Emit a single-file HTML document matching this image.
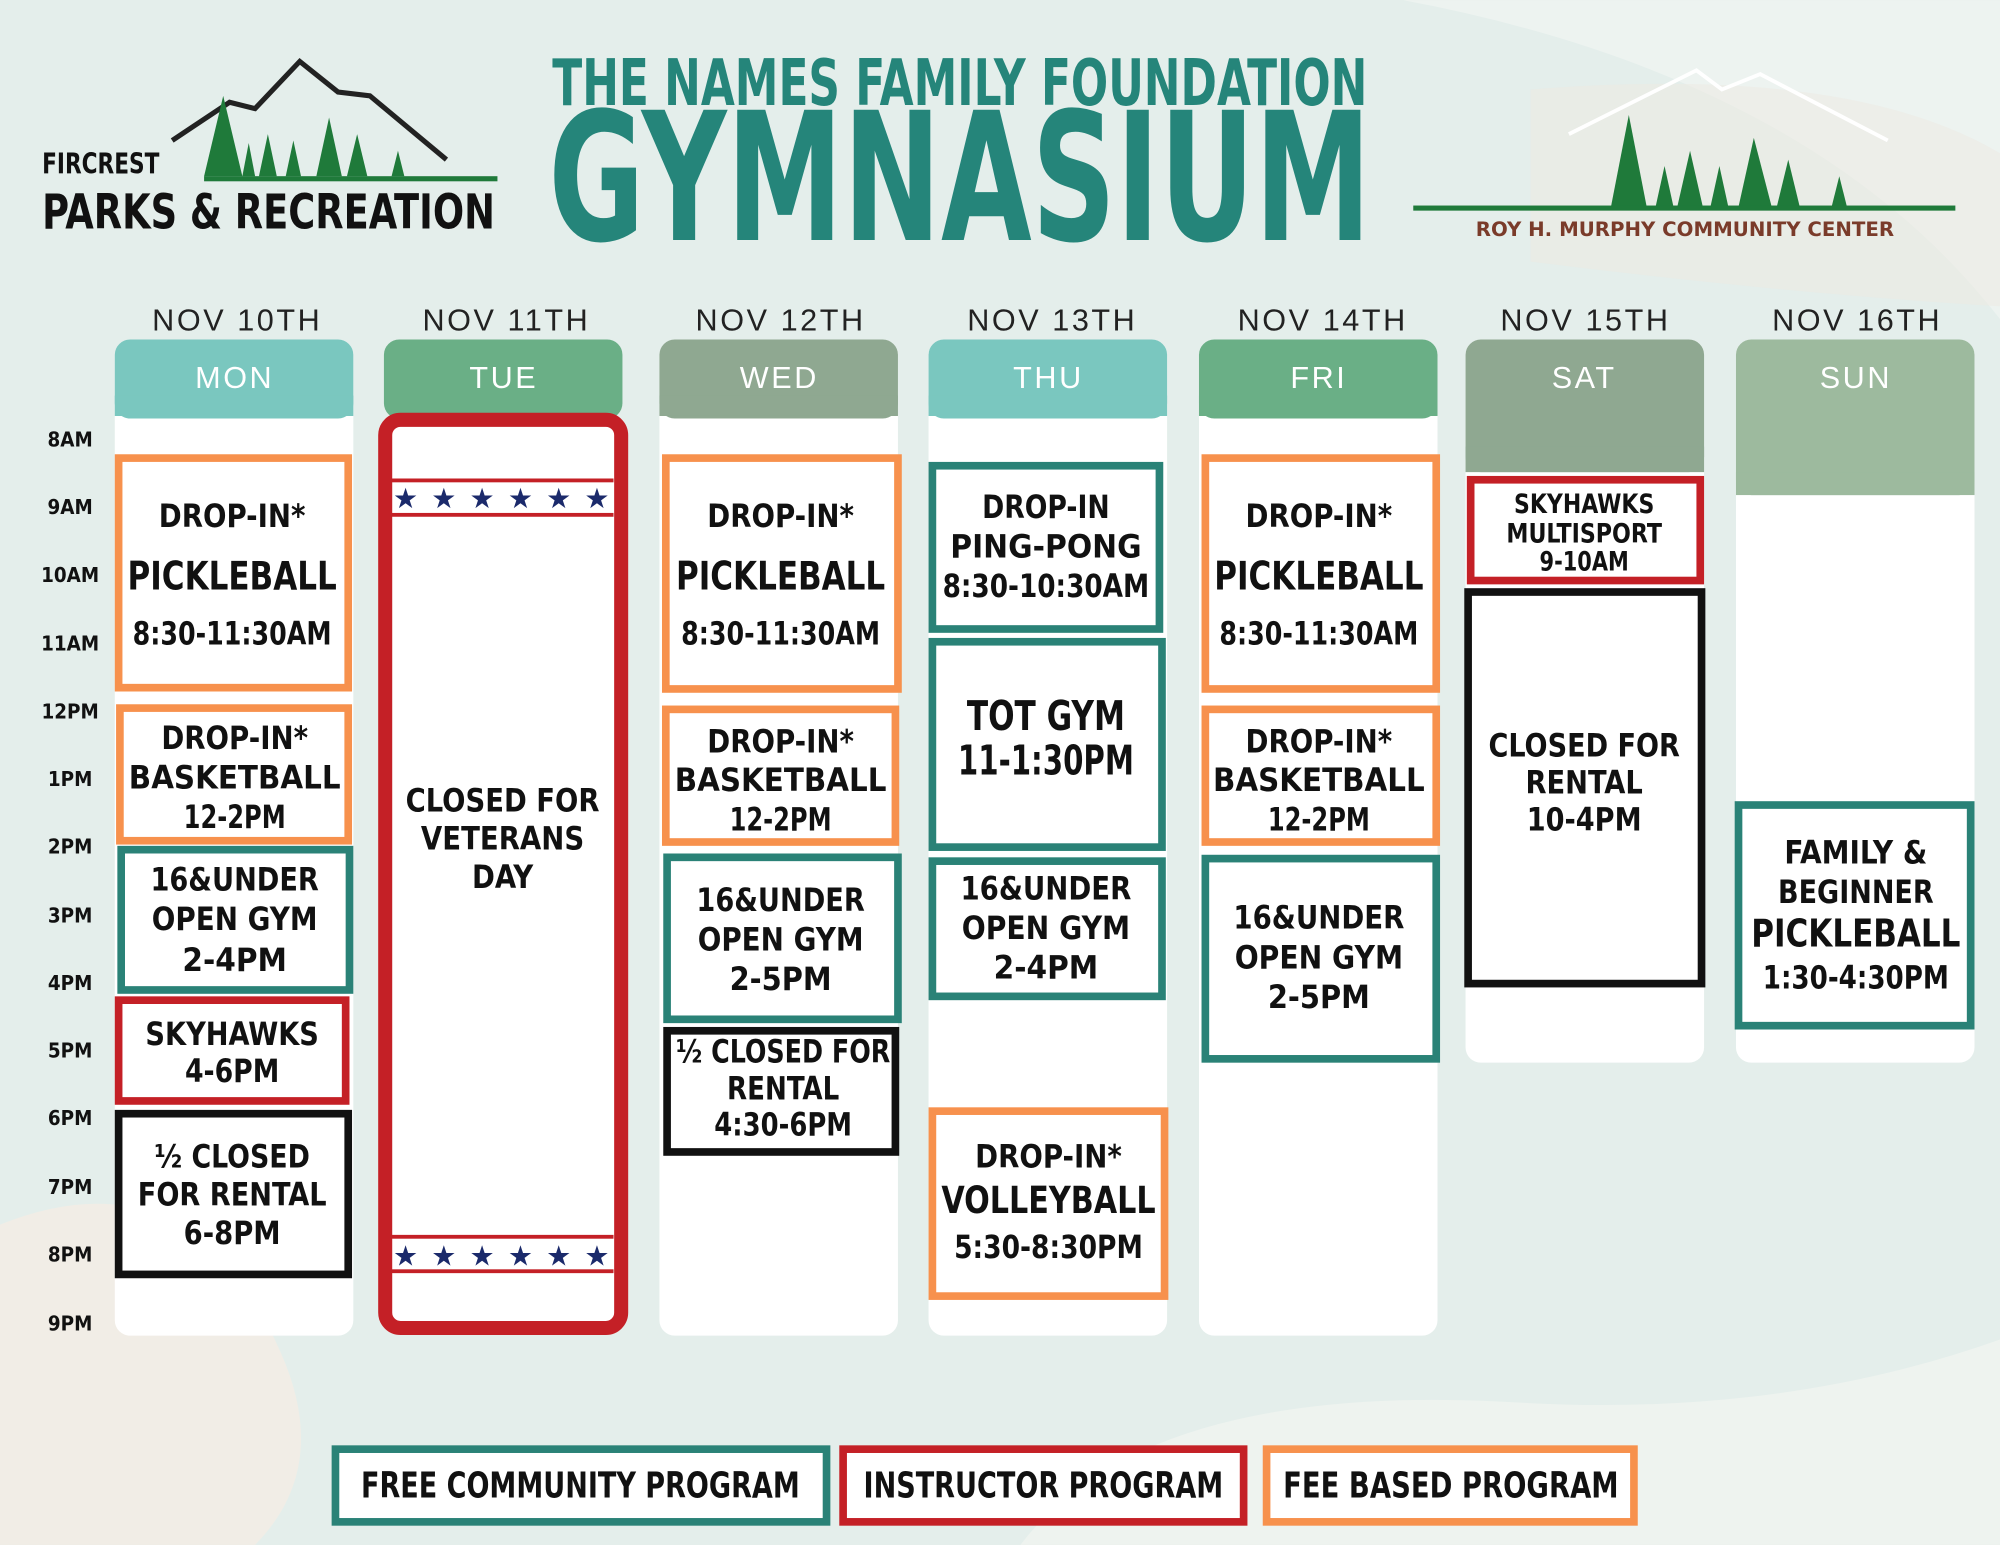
<!DOCTYPE html>
<html><head><meta charset="utf-8"><style>
html,body{margin:0;padding:0;background:#e6efec;}
svg{display:block}
text{font-family:"DejaVu Sans Condensed","Liberation Sans Narrow","Liberation Sans",sans-serif;font-weight:bold;}
.t{font-size:16px;fill:#111;text-anchor:middle}
.b{font-size:25px;fill:#111;text-anchor:middle}
.d{font-family:"Liberation Sans",sans-serif;font-weight:normal;font-size:24px;fill:#222;text-anchor:middle;letter-spacing:2px}
.h{font-family:"Liberation Sans",sans-serif;font-weight:normal;font-size:24px;fill:#fff;text-anchor:middle;letter-spacing:2px}
.s{font-family:"DejaVu Sans",sans-serif;font-size:22px;fill:#1b2a6b;text-anchor:middle}
</style></head><body>
<svg width="2000" height="1545" viewBox="0 0 1568 1211" xmlns="http://www.w3.org/2000/svg">
<rect width="1568" height="1211" fill="#e4eeeb"/>
<path d="M1100 0 Q1420 60 1568 250 L1568 0Z" fill="#edf3f0"/>
<path d="M0 960 Q150 900 220 1060 Q260 1150 200 1211 L0 1211Z" fill="#f1ede6"/>
<path d="M800 1211 Q900 1080 1200 1100 Q1400 1110 1568 1050 L1568 1211Z" fill="#eef3ef"/>
<path d="M1200 70 Q1450 50 1568 120 L1568 240 Q1400 230 1200 205Z" fill="#ede9e2" opacity="0.5"/>

<!-- left logo -->
<polyline points="135,110 180,80 200,85 235,48 265,72 290,75 350,125" fill="none" stroke="#222" stroke-width="4"/>
<g fill="#1f7a3a">
<polygon points="175,75 160,138 190,138"/><polygon points="210,105 203,138 217,138"/><polygon points="230,110 224,138 236,138"/>
<polygon points="258,92 248,138 268,138"/><polygon points="280,105 272,138 288,138"/><polygon points="195,112 190,138 200,138"/><polygon points="312,118 307,138 317,138"/>
</g>
<rect x="160" y="138" width="230" height="4" fill="#1f7a3a"/>
<text x="33" y="136" style="font-size:22px" textLength="92" lengthAdjust="spacingAndGlyphs" fill="#111">FIRCREST</text>
<text x="33" y="179" style="font-size:38px" textLength="355" lengthAdjust="spacingAndGlyphs" fill="#111">PARKS &amp; RECREATION</text>

<!-- title -->
<text x="433" y="82" style="font-size:50px" textLength="639" lengthAdjust="spacingAndGlyphs" fill="#25857a">THE NAMES FAMILY FOUNDATION</text>
<text x="430" y="188" style="font-size:140px" textLength="645" lengthAdjust="spacingAndGlyphs" fill="#25857a">GYMNASIUM</text>

<!-- right logo -->
<polyline points="1230,105 1330,55 1350,70 1380,58 1480,110" fill="none" stroke="#fff" stroke-width="3"/>
<g fill="#1f7a3a">
<polygon points="1277,90 1263,162 1291,162"/><polygon points="1305,130 1298,162 1312,162"/><polygon points="1325,118 1315,162 1335,162"/>
<polygon points="1348,130 1341,162 1355,162"/><polygon points="1375,108 1363,162 1389,162"/><polygon points="1402,125 1393,162 1411,162"/><polygon points="1442,138 1436,162 1448,162"/>
</g>
<rect x="1108" y="161" width="425" height="4" fill="#1f7a3a"/>
<text x="1157" y="185" style="font-size:15px" textLength="328" lengthAdjust="spacingAndGlyphs" fill="#7a3b2a">ROY H. MURPHY COMMUNITY CENTER</text>

<!-- dates -->
<text class="d" x="186" y="259">NOV 10TH</text><text class="d" x="397" y="259">NOV 11TH</text>
<text class="d" x="612" y="259">NOV 12TH</text><text class="d" x="825" y="259">NOV 13TH</text>
<text class="d" x="1037" y="259">NOV 14TH</text><text class="d" x="1243" y="259">NOV 15TH</text>
<text class="d" x="1456" y="259">NOV 16TH</text>

<!-- columns -->
<rect x="90" y="266" width="187" height="781" rx="12" fill="#fff"/>
<rect x="90" y="266" width="187" height="62" rx="12" fill="#7ac7bf"/><rect x="90" y="310" width="187" height="16" fill="#7ac7bf"/>
<rect x="517" y="266" width="187" height="781" rx="12" fill="#fff"/>
<rect x="517" y="266" width="187" height="62" rx="12" fill="#8fa891"/><rect x="517" y="310" width="187" height="16" fill="#8fa891"/>
<rect x="728" y="266" width="187" height="781" rx="12" fill="#fff"/>
<rect x="728" y="266" width="187" height="62" rx="12" fill="#7ac7bf"/><rect x="728" y="310" width="187" height="16" fill="#7ac7bf"/>
<rect x="940" y="266" width="187" height="781" rx="12" fill="#fff"/>
<rect x="940" y="266" width="187" height="62" rx="12" fill="#6aaf86"/><rect x="940" y="310" width="187" height="16" fill="#6aaf86"/>
<rect x="1149" y="266" width="187" height="567" rx="12" fill="#fff"/>
<rect x="1149" y="266" width="187" height="104" rx="12" fill="#8fa891"/><rect x="1149" y="350" width="187" height="20" fill="#8fa891"/>
<rect x="1361" y="266" width="187" height="567" rx="12" fill="#fff"/>
<rect x="1361" y="266" width="187" height="122" rx="12" fill="#9dba9e"/><rect x="1361" y="370" width="187" height="18" fill="#9dba9e"/>
<rect x="301" y="266" width="187" height="62" rx="12" fill="#6aaf86"/>
<text class="h" x="184" y="304">MON</text><text class="h" x="395" y="304">TUE</text><text class="h" x="611" y="304">WED</text>
<text class="h" x="822" y="304">THU</text><text class="h" x="1034" y="304">FRI</text><text class="h" x="1242" y="304">SAT</text><text class="h" x="1455" y="304">SUN</text>

<!-- times -->
<text class="t" x="55" y="350">8AM</text><text class="t" x="55" y="403">9AM</text><text class="t" x="55" y="456">10AM</text>
<text class="t" x="55" y="510">11AM</text><text class="t" x="55" y="563">12PM</text><text class="t" x="55" y="616">1PM</text>
<text class="t" x="55" y="669">2PM</text><text class="t" x="55" y="723">3PM</text><text class="t" x="55" y="776">4PM</text>
<text class="t" x="55" y="829">5PM</text><text class="t" x="55" y="882">6PM</text><text class="t" x="55" y="936">7PM</text>
<text class="t" x="55" y="989">8PM</text><text class="t" x="55" y="1043">9PM</text>

<!-- TUE -->
<rect x="302" y="329" width="185" height="712" rx="12" fill="#fff" stroke="#c42026" stroke-width="11"/>
<rect x="307" y="375" width="174" height="3" fill="#c42026"/><rect x="307" y="402" width="174" height="3" fill="#c42026"/>
<rect x="307" y="968" width="174" height="3" fill="#c42026"/><rect x="307" y="995" width="174" height="3" fill="#c42026"/>
<g class="s">
<text class="s" x="318" y="398">★</text><text class="s" x="348" y="398">★</text><text class="s" x="378" y="398">★</text><text class="s" x="408" y="398">★</text><text class="s" x="438" y="398">★</text><text class="s" x="468" y="398">★</text>
<text class="s" x="318" y="992">★</text><text class="s" x="348" y="992">★</text><text class="s" x="378" y="992">★</text><text class="s" x="408" y="992">★</text><text class="s" x="438" y="992">★</text><text class="s" x="468" y="992">★</text>
</g>
<text class="b" x="394" y="636" textLength="152" lengthAdjust="spacingAndGlyphs">CLOSED FOR</text><text class="b" x="394" y="666" textLength="128" lengthAdjust="spacingAndGlyphs">VETERANS</text><text class="b" x="394" y="696" textLength="48" lengthAdjust="spacingAndGlyphs">DAY</text>

<g fill="#fff" stroke-width="6">
<rect x="93" y="359" width="180" height="180" stroke="#f7914d"/>
<rect x="94" y="555" width="179" height="104" stroke="#f7914d"/>
<rect x="95" y="666" width="179" height="110" stroke="#2a8277"/>
<rect x="93" y="784" width="178" height="79" stroke="#c42026"/>
<rect x="93" y="873" width="180" height="126" stroke="#111"/>
<rect x="522" y="359" width="182" height="181" stroke="#f7914d"/>
<rect x="522" y="556" width="180" height="104" stroke="#f7914d"/>
<rect x="523" y="672" width="181" height="127" stroke="#2a8277"/>
<rect x="523" y="808" width="179" height="95" stroke="#111"/>
<rect x="731" y="365" width="178" height="128" stroke="#2a8277"/>
<rect x="731" y="503" width="180" height="161" stroke="#2a8277"/>
<rect x="731" y="675" width="180" height="106" stroke="#2a8277"/>
<rect x="731" y="871" width="182" height="145" stroke="#f7914d"/>
<rect x="945" y="359" width="181" height="181" stroke="#f7914d"/>
<rect x="945" y="556" width="181" height="104" stroke="#f7914d"/>
<rect x="945" y="673" width="181" height="157" stroke="#2a8277"/>
<rect x="1153" y="376" width="180" height="79" stroke="#c42026"/>
<rect x="1151" y="464" width="183" height="307" stroke="#111"/>
<rect x="1363" y="631" width="182" height="173" stroke="#2a8277"/>
</g>

<!-- MON text -->
<text class="b" x="182" y="413" textLength="115" lengthAdjust="spacingAndGlyphs">DROP-IN*</text><text class="b" x="182" y="462" style="font-size:31px" textLength="164" lengthAdjust="spacingAndGlyphs">PICKLEBALL</text><text class="b" x="182" y="505" textLength="156" lengthAdjust="spacingAndGlyphs">8:30-11:30AM</text>
<text class="b" x="184" y="587" textLength="115" lengthAdjust="spacingAndGlyphs">DROP-IN*</text><text class="b" x="184" y="618" textLength="166" lengthAdjust="spacingAndGlyphs">BASKETBALL</text><text class="b" x="184" y="649" textLength="80" lengthAdjust="spacingAndGlyphs">12-2PM</text>
<text class="b" x="184" y="698" textLength="132" lengthAdjust="spacingAndGlyphs">16&amp;UNDER</text><text class="b" x="184" y="729" textLength="130" lengthAdjust="spacingAndGlyphs">OPEN GYM</text><text class="b" x="184" y="761" textLength="82" lengthAdjust="spacingAndGlyphs">2-4PM</text>
<text class="b" x="182" y="819" textLength="136" lengthAdjust="spacingAndGlyphs">SKYHAWKS</text><text class="b" x="182" y="848" textLength="74" lengthAdjust="spacingAndGlyphs">4-6PM</text>
<text class="b" x="182" y="915" textLength="122" lengthAdjust="spacingAndGlyphs">½ CLOSED</text><text class="b" x="182" y="945" textLength="148" lengthAdjust="spacingAndGlyphs">FOR RENTAL</text><text class="b" x="182" y="975" textLength="76" lengthAdjust="spacingAndGlyphs">6-8PM</text>
<!-- WED text -->
<text class="b" x="612" y="413" textLength="115" lengthAdjust="spacingAndGlyphs">DROP-IN*</text><text class="b" x="612" y="462" style="font-size:31px" textLength="164" lengthAdjust="spacingAndGlyphs">PICKLEBALL</text><text class="b" x="612" y="505" textLength="156" lengthAdjust="spacingAndGlyphs">8:30-11:30AM</text>
<text class="b" x="612" y="590" textLength="115" lengthAdjust="spacingAndGlyphs">DROP-IN*</text><text class="b" x="612" y="620" textLength="166" lengthAdjust="spacingAndGlyphs">BASKETBALL</text><text class="b" x="612" y="651" textLength="80" lengthAdjust="spacingAndGlyphs">12-2PM</text>
<text class="b" x="612" y="714" textLength="132" lengthAdjust="spacingAndGlyphs">16&amp;UNDER</text><text class="b" x="612" y="745" textLength="130" lengthAdjust="spacingAndGlyphs">OPEN GYM</text><text class="b" x="612" y="776" textLength="80" lengthAdjust="spacingAndGlyphs">2-5PM</text>
<text class="b" x="614" y="833" textLength="168" lengthAdjust="spacingAndGlyphs">½ CLOSED FOR</text><text class="b" x="614" y="862" textLength="88" lengthAdjust="spacingAndGlyphs">RENTAL</text><text class="b" x="614" y="890" textLength="108" lengthAdjust="spacingAndGlyphs">4:30-6PM</text>
<!-- THU text -->
<text class="b" x="820" y="406" textLength="100" lengthAdjust="spacingAndGlyphs">DROP-IN</text><text class="b" x="820" y="437" textLength="150" lengthAdjust="spacingAndGlyphs">PING-PONG</text><text class="b" x="820" y="468" textLength="162" lengthAdjust="spacingAndGlyphs">8:30-10:30AM</text>
<text class="b" x="820" y="572" style="font-size:32px" textLength="124" lengthAdjust="spacingAndGlyphs">TOT GYM</text><text class="b" x="820" y="607" style="font-size:32px" textLength="138" lengthAdjust="spacingAndGlyphs">11-1:30PM</text>
<text class="b" x="820" y="705" textLength="134" lengthAdjust="spacingAndGlyphs">16&amp;UNDER</text><text class="b" x="820" y="736" textLength="132" lengthAdjust="spacingAndGlyphs">OPEN GYM</text><text class="b" x="820" y="767" textLength="82" lengthAdjust="spacingAndGlyphs">2-4PM</text>
<text class="b" x="822" y="915" textLength="115" lengthAdjust="spacingAndGlyphs">DROP-IN*</text><text class="b" x="822" y="951" style="font-size:29px" textLength="168" lengthAdjust="spacingAndGlyphs">VOLLEYBALL</text><text class="b" x="822" y="986" textLength="148" lengthAdjust="spacingAndGlyphs">5:30-8:30PM</text>
<!-- FRI text -->
<text class="b" x="1034" y="413" textLength="115" lengthAdjust="spacingAndGlyphs">DROP-IN*</text><text class="b" x="1034" y="462" style="font-size:31px" textLength="164" lengthAdjust="spacingAndGlyphs">PICKLEBALL</text><text class="b" x="1034" y="505" textLength="156" lengthAdjust="spacingAndGlyphs">8:30-11:30AM</text>
<text class="b" x="1034" y="590" textLength="115" lengthAdjust="spacingAndGlyphs">DROP-IN*</text><text class="b" x="1034" y="620" textLength="166" lengthAdjust="spacingAndGlyphs">BASKETBALL</text><text class="b" x="1034" y="651" textLength="80" lengthAdjust="spacingAndGlyphs">12-2PM</text>
<text class="b" x="1034" y="728" textLength="134" lengthAdjust="spacingAndGlyphs">16&amp;UNDER</text><text class="b" x="1034" y="759" textLength="132" lengthAdjust="spacingAndGlyphs">OPEN GYM</text><text class="b" x="1034" y="790" textLength="80" lengthAdjust="spacingAndGlyphs">2-5PM</text>
<!-- SAT text -->
<text class="b" x="1242" y="402" style="font-size:21px" textLength="110" lengthAdjust="spacingAndGlyphs">SKYHAWKS</text><text class="b" x="1242" y="425" style="font-size:21px" textLength="122" lengthAdjust="spacingAndGlyphs">MULTISPORT</text><text class="b" x="1242" y="447" style="font-size:21px" textLength="70" lengthAdjust="spacingAndGlyphs">9-10AM</text>
<text class="b" x="1242" y="593" textLength="150" lengthAdjust="spacingAndGlyphs">CLOSED FOR</text><text class="b" x="1242" y="622" textLength="92" lengthAdjust="spacingAndGlyphs">RENTAL</text><text class="b" x="1242" y="651" textLength="90" lengthAdjust="spacingAndGlyphs">10-4PM</text>
<!-- SUN text -->
<text class="b" x="1455" y="677" textLength="112" lengthAdjust="spacingAndGlyphs">FAMILY &amp;</text><text class="b" x="1455" y="708" textLength="122" lengthAdjust="spacingAndGlyphs">BEGINNER</text><text class="b" x="1455" y="742" style="font-size:30px" textLength="164" lengthAdjust="spacingAndGlyphs">PICKLEBALL</text><text class="b" x="1455" y="775" textLength="146" lengthAdjust="spacingAndGlyphs">1:30-4:30PM</text>

<!-- legend -->
<g fill="#fff" stroke-width="6">
<rect x="263" y="1136" width="385" height="57" stroke="#2a8277"/>
<rect x="661" y="1136" width="314" height="57" stroke="#c42026"/>
<rect x="993" y="1136" width="288" height="57" stroke="#f7914d"/>
</g>
<text x="283" y="1174" style="font-size:28px" textLength="344" lengthAdjust="spacingAndGlyphs" fill="#111">FREE COMMUNITY PROGRAM</text>
<text x="677" y="1174" style="font-size:28px" textLength="282" lengthAdjust="spacingAndGlyphs" fill="#111">INSTRUCTOR PROGRAM</text>
<text x="1006" y="1174" style="font-size:28px" textLength="263" lengthAdjust="spacingAndGlyphs" fill="#111">FEE BASED PROGRAM</text>
</svg>
</body></html>
